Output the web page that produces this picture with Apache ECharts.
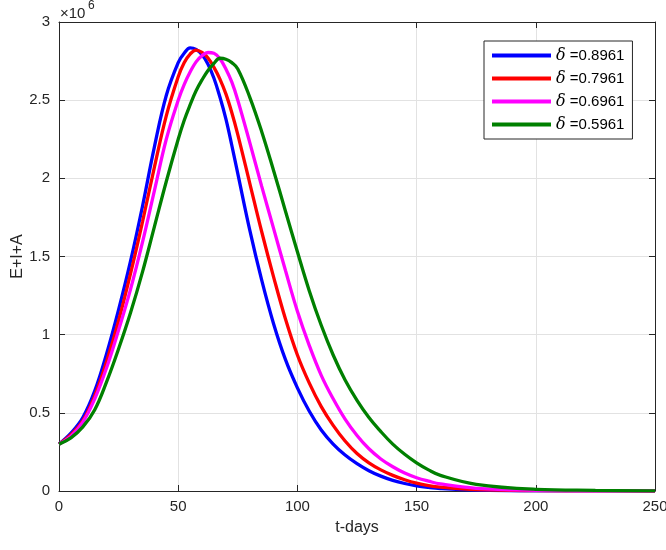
<!DOCTYPE html>
<html><head><meta charset="utf-8">
<script src="https://cdn.jsdelivr.net/npm/echarts@6/dist/echarts.min.js"></script>
<style>html,body{margin:0;padding:0;background:#fff}#c{width:666px;height:550px}</style>
</head><body><div id="c"></div>
<script>
// t-days sample points (shared by all series)
const days = [0,5,10,15,20,25,30,35,40,45,50,52.5,55,57.5,60,62.5,65,67.5,70,72.5,75,80,85,90,95,100,105,110,115,120,125,130,135,140,145,150,155,160,175,200,225,250];
// E+I+A in units of 10^6
const seriesBlue    = [0.30,0.37,0.47,0.64,0.88,1.16,1.47,1.82,2.20,2.53,2.74,2.80,2.835,2.825,2.79,2.73,2.64,2.52,2.38,2.21,2.03,1.67,1.35,1.07,0.84,0.66,0.51,0.39,0.30,0.23,0.175,0.13,0.095,0.068,0.048,0.033,0.023,0.016,0.006,0.001,0.0003,0.0001];
const seriesRed     = [0.30,0.36,0.45,0.61,0.83,1.09,1.39,1.72,2.07,2.40,2.65,2.74,2.795,2.82,2.805,2.77,2.71,2.635,2.54,2.42,2.28,1.97,1.66,1.37,1.10,0.87,0.69,0.54,0.42,0.32,0.24,0.18,0.135,0.10,0.072,0.05,0.035,0.025,0.009,0.002,0.0005,0.0001];
const seriesMagenta = [0.30,0.35,0.44,0.59,0.79,1.03,1.29,1.59,1.92,2.25,2.50,2.60,2.68,2.745,2.785,2.805,2.80,2.765,2.70,2.615,2.50,2.23,1.95,1.68,1.41,1.15,0.93,0.74,0.59,0.46,0.355,0.27,0.205,0.155,0.115,0.085,0.063,0.045,0.017,0.004,0.001,0.0002];
const seriesGreen   = [0.30,0.34,0.41,0.52,0.70,0.91,1.14,1.40,1.69,1.98,2.25,2.37,2.47,2.56,2.63,2.69,2.735,2.768,2.762,2.74,2.70,2.52,2.30,2.05,1.79,1.53,1.28,1.06,0.87,0.71,0.58,0.47,0.38,0.30,0.235,0.18,0.135,0.10,0.043,0.011,0.004,0.001];
const deltaLabels = ['0.8961','0.7961','0.6961','0.5961'];
const xTickValues = [0,50,100,150,200,250];
const yTickValues = [0,0.5,1,1.5,2,2.5,3];

const allSeries = [seriesBlue, seriesRed, seriesMagenta, seriesGreen];
const colors = ['#0000ff','#ff0000','#ff00ff','#008000'];
const axisCol = '#262626';
const gridCol = '#e2e2e2';
const font = 'Liberation Sans, Arial, Helvetica, sans-serif';

const chart = echarts.init(document.getElementById('c'), null, {renderer:'canvas'});
const xMin = xTickValues[0], xMax = xTickValues[xTickValues.length-1];
const xInt = xTickValues[1]-xTickValues[0];
const yMin = yTickValues[0], yMax = yTickValues[yTickValues.length-1];
const yInt = yTickValues[1]-yTickValues[0];

const baseAxisLine = {show:true, onZero:false, lineStyle:{color:axisCol, width:1}};
const baseTick = {show:true, inside:true, length:6, lineStyle:{color:axisCol, width:1}};

chart.setOption({
  animation:false,
  backgroundColor:'#ffffff',
  grid:{left:59, right:11, top:22, bottom:59, containLabel:false, outerBoundsMode:'none'},
  xAxis:[
    {type:'value', min:xMin, max:xMax, interval:xInt, position:'bottom',
     axisLine:baseAxisLine, axisTick:baseTick,
     axisLabel:{color:axisCol, fontSize:15, fontFamily:font, margin:8},
     splitLine:{show:true, lineStyle:{color:gridCol, width:1}},
     name:'t-days', nameLocation:'middle', nameGap:29,
     nameTextStyle:{color:axisCol, fontSize:16, fontFamily:font}},
    {type:'value', min:xMin, max:xMax, interval:xInt, position:'top',
     axisLine:baseAxisLine, axisTick:baseTick, axisLabel:{show:false}, splitLine:{show:false}}
  ],
  yAxis:[
    {type:'value', min:yMin, max:yMax, interval:yInt, position:'left',
     axisLine:baseAxisLine, axisTick:baseTick,
     axisLabel:{color:axisCol, fontSize:15, fontFamily:font, margin:9,
       formatter:v=>String(v)},
     splitLine:{show:true, lineStyle:{color:gridCol, width:1}},
     name:'E+I+A', nameLocation:'middle', nameGap:33, nameMoveOverlap:false,
     nameTextStyle:{color:axisCol, fontSize:16, fontFamily:font}},
    {type:'value', min:yMin, max:yMax, interval:yInt, position:'right',
     axisLine:baseAxisLine, axisTick:baseTick, axisLabel:{show:false}, splitLine:{show:false}}
  ],
  legend:{
    orient:'vertical', left:484, top:41,
    backgroundColor:'#ffffff', borderColor:axisCol, borderWidth:1,
    padding:[6,8,6,8], itemGap:6, itemWidth:59, itemHeight:4, icon:'rect',
    textStyle:{color:'#000', fontSize:15, fontFamily:font, lineHeight:17,
      rich:{d:{fontFamily:'DejaVu Serif, Liberation Serif, serif', fontStyle:'italic', fontSize:16, color:'#000'}}},
    formatter:n=>'{d|δ}'+n.slice(1),
    data:deltaLabels.map(d=>'δ ='+d)
  },
  graphic:[
    {type:'text', left:60, top:6, style:{text:'×10', fontSize:15, fontFamily:font, fill:axisCol}},
    {type:'text', left:88, top:0, style:{text:'6', fontSize:12, fontFamily:font, fill:axisCol}}
  ],
  series: allSeries.map((arr,i)=>({
    name:'δ ='+deltaLabels[i], type:'line', smooth:0.4, showSymbol:false,
    color:colors[i], lineStyle:{color:colors[i], width:3.3},
    data: days.map((d,j)=>[d, arr[j]])
  }))
});
</script></body></html>
